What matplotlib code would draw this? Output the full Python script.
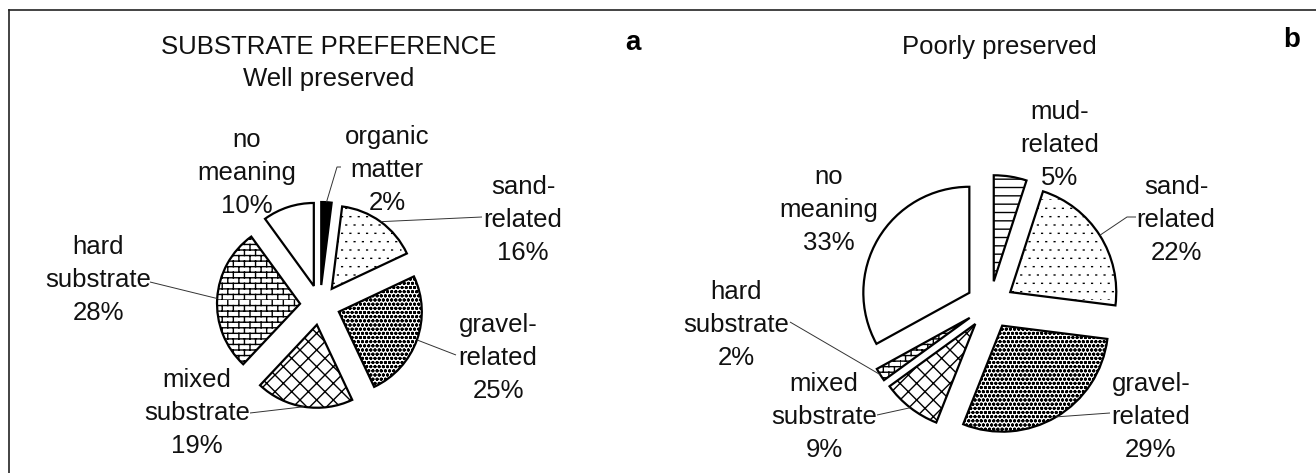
import warnings
warnings.filterwarnings("ignore")
import numpy as np
import matplotlib
matplotlib.use("Agg")
import matplotlib.pyplot as plt
import matplotlib.hatch as mhatch
from matplotlib.path import Path

# ---------------- data ----------------
cats_a = ["organic\nmatter", "sand-\nrelated", "gravel-\nrelated",
          "mixed\nsubstrate", "hard\nsubstrate", "no\nmeaning"]
vals_a = [2, 16, 25, 19, 28, 10]

cats_b = ["mud-\nrelated", "sand-\nrelated", "gravel-\nrelated",
          "mixed\nsubstrate", "hard\nsubstrate", "no\nmeaning"]
vals_b = [5, 22, 29, 9, 2, 33]

title_a = "SUBSTRATE PREFERENCE\nWell preserved"
title_b = "Poorly preserved"
panel_a = "a"
panel_b = "b"


# ---------------- custom hatches ----------------
class BrickHatch(mhatch.HatchPatternBase):
    """'b' : brick wall pattern"""
    def __init__(self, hatch, density):
        self.rows = hatch.count('b') * density
        self.cols = self.rows // 2
        self.num_vertices = 2 * self.rows + 2 * self.rows * self.cols

    def set_vertices_and_codes(self, vertices, codes):
        n, m = self.rows, self.cols
        k = 0
        for i in range(n):
            vertices[k] = (0.0, i / n)
            vertices[k + 1] = (1.0, i / n)
            k += 2
        for i in range(n):
            shift = 0.5 / m if i % 2 else 0.0
            for j in range(m):
                x = j / m + shift
                vertices[k] = (x, i / n)
                vertices[k + 1] = (x, (i + 1) / n)
                k += 2
        codes[0::2] = Path.MOVETO
        codes[1::2] = Path.LINETO


class FineDotHatch(mhatch.HatchPatternBase):
    """'d' : small staggered dots"""
    def __init__(self, hatch, density):
        self.rows = hatch.count('d') * density
        self.num_vertices = 2 * self.rows * self.rows

    def set_vertices_and_codes(self, vertices, codes):
        n = self.rows
        k = 0
        seg = 0.008
        for i in range(n):
            shift = 0.5 / n if i % 2 else 0.0
            for j in range(n):
                x = j / n + shift
                y = i / n
                vertices[k] = (x, y)
                vertices[k + 1] = (x + seg, y)
                k += 2
        codes[0::2] = Path.MOVETO
        codes[1::2] = Path.LINETO


mhatch._hatch_types.append(BrickHatch)
mhatch._hatch_types.append(FineDotHatch)

style = {
    "organic": ("black", None),
    "mud": ("white", "--"),
    "sand": ("white", "dd"),
    "gravel": ("white", "oooo"),
    "mixed": ("white", "xx"),
    "hard": ("white", "bbb"),
    "no": ("white", None),
}


def key_of(cat):
    return cat.split("\n")[0].rstrip("-")


plt.rcParams["font.family"] = ["Liberation Sans", "DejaVu Sans"]
plt.rcParams["hatch.linewidth"] = 1.0

W, H = 1316, 473
fig = plt.figure(figsize=(W / 100, H / 100), dpi=100)
ax = fig.add_axes([0, 0, 1, 1])
TXT = "#111111"


def Y(y):  # image row -> data y
    return H - y


def draw_pie(cats, vals, center, radius, expl, text_pos, leader_start):
    cols = [style[key_of(c)][0] for c in cats]
    hats = [style[key_of(c)][1] for c in cats]
    wedges, _ = ax.pie(vals, explode=[expl] * len(vals), startangle=90,
                       counterclock=False, center=(center[0], Y(center[1])),
                       radius=radius, colors=cols,
                       wedgeprops=dict(edgecolor="black", linewidth=1.6))
    for w, h in zip(wedges, hats):
        if h:
            w.set_hatch(h)
    for w, c, v, tp, ls in zip(wedges, cats, vals, text_pos, leader_start):
        ax.text(tp[0], Y(tp[1]), f"{c}\n{v}%", ha="center", va="center",
                fontsize=18.5, linespacing=1.45, color=TXT)
        if ls is not None:
            th = np.deg2rad(0.5 * (w.theta1 + w.theta2))
            cx, cy = w.center
            tx, ty = cx + w.r * np.cos(th), cy + w.r * np.sin(th)
            xs = [p[0] for p in ls] + [tx]
            ys = [Y(p[1]) for p in ls] + [ty]
            ax.plot(xs, ys, color="#333333", lw=0.7, solid_capstyle="butt")


# layout (pixel positions)
text_a = [(387, 170), (523, 220), (498, 358), (197, 413), (98, 280), (247, 173)]
lead_a = [[(341, 167), (337, 167)], [(482, 217)], [(456, 355)],
          [(250, 413)], [(150, 282)], None]
text_b = [(1060, 145), (1176, 220), (1151, 417), (824, 417), (736, 325), (829, 210)]
lead_b = [None, [(1136, 217), (1127, 217)], [(1110, 413)],
          [(877, 415)], [(790, 322)], None]

draw_pie(cats_a, vals_a, (320, 305), 83, 20, text_a, lead_a)
draw_pie(cats_b, vals_b, (990, 305), 106, 24, text_b, lead_b)

ax.text(329, Y(63), title_a, ha="center", va="center", fontsize=18.5,
        linespacing=1.45, color=TXT)
ax.text(999, Y(47), title_b, ha="center", va="center", fontsize=18.5,
        color=TXT)
ax.text(633, Y(43), panel_a, ha="center", va="center", fontsize=20,
        fontweight="bold", color="black")
ax.text(1292, Y(40), panel_b, ha="center", va="center", fontsize=20,
        fontweight="bold", color="black")

# frame (top and left borders)
ax.plot([9, W], [Y(10), Y(10)], color="#222222", lw=1.2)
ax.plot([9, 9], [Y(10), 0], color="#222222", lw=1.2)

ax.set_xlim(0, W)
ax.set_ylim(0, H)
ax.set_aspect("auto")
ax.axis("off")

fig.savefig("out.png", dpi=100)
